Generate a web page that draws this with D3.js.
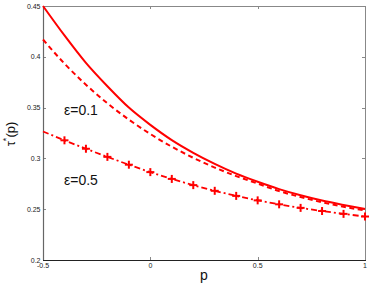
<!DOCTYPE html>
<html>
<head>
<meta charset="utf-8">
<script src="https://cdn.jsdelivr.net/npm/d3@7"></script>
<style>
  html, body { margin: 0; padding: 0; background: #fff; }
  svg { display: block; font-family: "Liberation Sans", Arial, Helvetica, sans-serif; }
</style>
</head>
<body>
<svg id="chart" width="374" height="288"></svg>
<script>
// ---- data ----
const pValues = [-0.5, -0.4, -0.3, -0.2, -0.1, 0, 0.1, 0.2, 0.3, 0.4, 0.5, 0.6, 0.7, 0.8, 0.9, 1.0];
const tauSolid = [0.450, 0.421, 0.394, 0.371, 0.350, 0.333, 0.318, 0.3055, 0.2946, 0.285, 0.277, 0.2698, 0.2637, 0.2585, 0.2542, 0.2502];
const tauEps01 = [0.417, 0.3933, 0.3725, 0.3542, 0.3382, 0.324, 0.3115, 0.3006, 0.291, 0.2826, 0.2752, 0.2678, 0.2620, 0.2568, 0.2524, 0.2488];
const tauEps05 = [0.3265, 0.3178, 0.3095, 0.3015, 0.2938, 0.2865, 0.2798, 0.2737, 0.2681, 0.2631, 0.2587, 0.2548, 0.2513, 0.2482, 0.2454, 0.2428];
const xTicks = [-0.5, 0, 0.5, 1];
const xTickLabels = ["-0.5", "0", "0.5", "1"];
const yTicks = [0.2, 0.25, 0.3, 0.35, 0.4, 0.45];
const yTickLabels = ["0.2", "0.25", "0.3", "0.35", "0.4", "0.45"];
const labelEps01 = "ε=0.1";
const labelEps05 = "ε=0.5";

// ---- layout ----
const svg = d3.select("#chart");
const L = 43, R = 365, T = 6, B = 260;
const x = d3.scaleLinear().domain([-0.5, 1]).range([L, R]);
const y = d3.scaleLinear().domain([0.2, 0.45]).range([B, T]);
const red = "#ff0000";
const tickLen = 3;

// ticks (inward, mirrored)
const tg = svg.append("g").attr("stroke", "#888").attr("stroke-width", 1);
xTicks.forEach(v => {
  const px = Math.round(x(v)) + 0.5;
  tg.append("line").attr("x1", px).attr("x2", px).attr("y1", B).attr("y2", B - tickLen);
  tg.append("line").attr("x1", px).attr("x2", px).attr("y1", T).attr("y2", T + tickLen);
});
yTicks.forEach(v => {
  const py = Math.round(y(v)) + 0.5;
  tg.append("line").attr("x1", L).attr("x2", L + tickLen).attr("y1", py).attr("y2", py);
  tg.append("line").attr("x1", R).attr("x2", R - tickLen).attr("y1", py).attr("y2", py);
});

// box
svg.append("line").attr("x1", L).attr("x2", R + 0.5).attr("y1", T + 0.5).attr("y2", T + 0.5).attr("stroke", "#888");
svg.append("line").attr("x1", R + 0.5).attr("x2", R + 0.5).attr("y1", T).attr("y2", B).attr("stroke", "#888");
svg.append("line").attr("x1", L + 0.5).attr("x2", L + 0.5).attr("y1", T).attr("y2", B).attr("stroke", "#666").attr("stroke-width", 1.2);
svg.append("line").attr("x1", L).attr("x2", R + 1).attr("y1", B + 0.5).attr("y2", B + 0.5).attr("stroke", "#222").attr("stroke-width", 1.2);

// tick labels
const tl = svg.append("g").attr("font-size", 7).attr("fill", "#222");
xTicks.forEach((v, i) => {
  tl.append("text").attr("x", x(v)).attr("y", 268).attr("text-anchor", "middle").text(xTickLabels[i]);
});
yTicks.forEach((v, i) => {
  tl.append("text").attr("x", L - 2.5).attr("y", y(v) + 2.5).attr("text-anchor", "end").text(yTickLabels[i]);
});

// axis titles
svg.append("text").attr("x", (L + R) / 2).attr("y", 279.5).attr("text-anchor", "middle")
  .attr("font-size", 14).attr("fill", "#111").text("p");
const yl = svg.append("text").attr("transform", "translate(15,134) rotate(-90)")
  .attr("text-anchor", "middle").attr("font-size", 13).attr("fill", "#111");
yl.append("tspan").text("τ");
yl.append("tspan").attr("font-size", 9).attr("dy", -6).text("*");
yl.append("tspan").attr("dy", 6).text("(p)");

// curves
const line = d3.line().x(d => x(d[0])).y(d => y(d[1])).curve(d3.curveMonotoneX);
const zip = arr => pValues.map((p, i) => [p, arr[i]]);

svg.append("path").datum(zip(tauSolid)).attr("d", line)
  .attr("fill", "none").attr("stroke", red).attr("stroke-width", 2);
svg.append("path").datum(zip(tauEps01)).attr("d", line)
  .attr("fill", "none").attr("stroke", red).attr("stroke-width", 2).attr("stroke-dasharray", "5,3.5");
svg.append("path").datum(zip(tauEps05)).attr("d", line)
  .attr("fill", "none").attr("stroke", red).attr("stroke-width", 1.8).attr("stroke-dasharray", "6,3,2,3");

// + markers on the eps=0.5 curve
const mk = 4;
const markers = zip(tauEps05).filter(d => d[0] > -0.45);
const mg = svg.append("g").attr("stroke", red).attr("stroke-width", 2);
markers.forEach(d => {
  const cx = x(d[0]), cy = y(d[1]);
  mg.append("line").attr("x1", cx - mk).attr("x2", cx + mk).attr("y1", cy).attr("y2", cy);
  mg.append("line").attr("x1", cx).attr("x2", cx).attr("y1", cy - mk).attr("y2", cy + mk);
});

// annotations
svg.append("text").attr("x", 64).attr("y", 115).attr("font-size", 14).attr("fill", "#111").text(labelEps01);
svg.append("text").attr("x", 64).attr("y", 185).attr("font-size", 14).attr("fill", "#111").text(labelEps05);
</script>
</body>
</html>
